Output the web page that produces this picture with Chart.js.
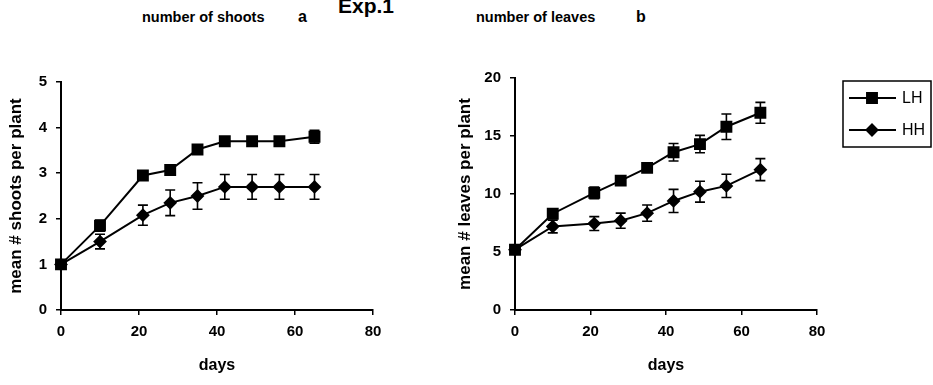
<!DOCTYPE html>
<html>
<head>
<meta charset="utf-8">
<script src="https://cdn.jsdelivr.net/npm/chart.js@4.4.1/dist/chart.umd.min.js"></script>
<style>
    html, body { margin: 0; padding: 0; background: #fff; }
    #wrap { position: relative; width: 933px; height: 385px; overflow: hidden; font-family: 'Liberation Sans', Arial, sans-serif; font-weight: bold; color: #000; }
    .lbl { position: absolute; white-space: nowrap; font-size: 14.5px; line-height: 1; }
    #c1 { position: absolute; left: 0; top: 0; }
    #c2 { position: absolute; left: 430px; top: 0; }
</style>
</head>
<body>
<div id="wrap">
    <div class="lbl" style="left:142px; top:10px;">number of shoots</div>
    <div class="lbl" style="left:298px; top:9px; font-size:16px;">a</div>
    <div class="lbl" style="left:338px; top:-5px; font-size:21px;">Exp.1</div>
    <div class="lbl" style="left:476px; top:10px;">number of leaves</div>
    <div class="lbl" style="left:636px; top:9px; font-size:16px;">b</div>
    <canvas id="c1" width="430" height="385"></canvas>
    <canvas id="c2" width="503" height="385"></canvas>
</div>
<script>
// sampling days
const days = [0, 10, 21, 28, 35, 42, 49, 56, 65];

// number of shoots (a)
const shootsLH = [1.0, 1.85, 2.95, 3.07, 3.52, 3.7, 3.7, 3.7, 3.8];
const shootsLHErr = [0, 0.12, 0.06, 0.08, 0.1, 0.1, 0.1, 0.1, 0.14];
const shootsHH = [1.0, 1.5, 2.08, 2.35, 2.5, 2.7, 2.7, 2.7, 2.7];
const shootsHHErr = [0, 0.16, 0.22, 0.28, 0.29, 0.27, 0.27, 0.27, 0.27];

// number of leaves (b)
const leavesLH = [5.2, 8.3, 10.1, 11.15, 12.25, 13.6, 14.3, 15.8, 17.0];
const leavesLHErr = [0, 0.25, 0.5, 0.3, 0.3, 0.75, 0.75, 1.1, 0.9];
const leavesHH = [5.2, 7.2, 7.45, 7.7, 8.35, 9.4, 10.2, 10.7, 12.1];
const leavesHHErr = [0, 0.55, 0.6, 0.65, 0.7, 1.0, 0.9, 1.0, 0.95];

const seriesNames = ['LH', 'HH'];
const xTicks = { min: 0, max: 80, step: 20 };

const FONT = "'Liberation Sans', Arial, sans-serif";

function toPoints(vals, errs) {
    return days.map((d, i) => ({ x: d, y: vals[i], err: errs[i] }));
}

function makeDatasets(lh, lhErr, hh, hhErr) {
    return [
        {
            label: seriesNames[0],
            data: toPoints(lh, lhErr),
            borderColor: '#000',
            backgroundColor: '#000',
            borderWidth: 2,
            pointStyle: 'rect',
            pointRadius: 7,
            pointHoverRadius: 7,
            clip: false
        },
        {
            label: seriesNames[1],
            data: toPoints(hh, hhErr),
            borderColor: '#000',
            backgroundColor: '#000',
            borderWidth: 2,
            pointStyle: 'rectRot',
            pointRadius: 5.5,
            pointHoverRadius: 5.5,
            clip: false
        }
    ];
}

// vertical error bars with caps, placed through the chart scales
const errorBars = {
    id: 'errorBars',
    afterDatasetsDraw(chart) {
        const ctx = chart.ctx;
        const xs = chart.scales.x, ys = chart.scales.y;
        ctx.save();
        ctx.strokeStyle = '#000';
        ctx.lineWidth = 1.6;
        chart.data.datasets.forEach(ds => {
            ds.data.forEach(p => {
                if (!p.err) return;
                const px = xs.getPixelForValue(p.x);
                const top = ys.getPixelForValue(p.y + p.err);
                const bot = ys.getPixelForValue(p.y - p.err);
                ctx.beginPath();
                ctx.moveTo(px, top); ctx.lineTo(px, bot);
                ctx.moveTo(px - 5, top); ctx.lineTo(px + 5, top);
                ctx.moveTo(px - 5, bot); ctx.lineTo(px + 5, bot);
                ctx.stroke();
            });
        });
        ctx.restore();
    }
};

// boxed legend with line + marker samples
const boxLegend = {
    id: 'boxLegend',
    afterDraw(chart) {
        const ctx = chart.ctx;
        const bx = 413, by = 81, bw = 88, bh = 66;
        ctx.save();
        ctx.strokeStyle = '#000';
        ctx.lineWidth = 1.5;
        ctx.strokeRect(bx, by, bw, bh);
        chart.data.datasets.forEach((ds, i) => {
            const y = by + 17 + i * 32;
            ctx.beginPath();
            ctx.lineWidth = 2;
            ctx.moveTo(bx + 6, y);
            ctx.lineTo(bx + 53, y);
            ctx.stroke();
            ctx.fillStyle = '#000';
            Chart.helpers.drawPoint(ctx, {
                pointStyle: ds.pointStyle,
                radius: ds.pointRadius,
                borderWidth: 1,
                rotation: 0
            }, bx + 29, y);
            ctx.fill();
            ctx.font = "16px 'Liberation Sans', Arial, sans-serif";
            ctx.textBaseline = 'middle';
            ctx.fillText(ds.label, bx + 59, y + 1);
        });
        ctx.restore();
    }
};

function makeOptions(yMax, yStep, yTitle, padLeft, padRight, padTop, yWidth) {
    return {
        responsive: false,
        animation: false,
        events: [],
        layout: { padding: { left: padLeft, right: padRight, top: padTop, bottom: 0 } },
        plugins: { legend: { display: false }, tooltip: { enabled: false } },
        scales: {
            x: {
                type: 'linear',
                min: xTicks.min,
                max: xTicks.max,
                border: { display: true, color: '#000', width: 2 },
                grid: { display: true, drawOnChartArea: false, drawTicks: true, tickLength: 5, color: '#000', lineWidth: 1.5 },
                ticks: { stepSize: xTicks.step, color: '#000', padding: 8, font: { family: FONT, size: 15, weight: 'bold' } },
                title: { display: true, text: 'days', color: '#000', padding: { top: 0, bottom: 10 }, font: { family: FONT, size: 16, weight: 'bold' } },
                afterFit(scale) { scale.height = 75; }
            },
            y: {
                min: 0,
                max: yMax,
                border: { display: true, color: '#000', width: 2 },
                grid: { display: true, drawOnChartArea: false, drawTicks: true, tickLength: 5, color: '#000', lineWidth: 1.5 },
                ticks: { stepSize: yStep, color: '#000', padding: 9, font: { family: FONT, size: 15, weight: 'bold' } },
                title: { display: true, text: yTitle, color: '#000', padding: { top: 6, bottom: 0 }, font: { family: FONT, size: 17, weight: 'bold' } },
                afterFit(scale) { scale.width = yWidth; }
            }
        }
    };
}

new Chart(document.getElementById('c1').getContext('2d'), {
    type: 'line',
    data: { datasets: makeDatasets(shootsLH, shootsLHErr, shootsHH, shootsHHErr) },
    options: makeOptions(5, 1, 'mean # shoots per plant', 0, 57, 82, 61),
    plugins: [errorBars]
});

new Chart(document.getElementById('c2').getContext('2d'), {
    type: 'line',
    data: { datasets: makeDatasets(leavesLH, leavesLHErr, leavesHH, leavesHHErr) },
    options: makeOptions(20, 5, 'mean # leaves per plant', 19, 116, 78, 66),
    plugins: [errorBars, boxLegend]
});
</script>
</body>
</html>
